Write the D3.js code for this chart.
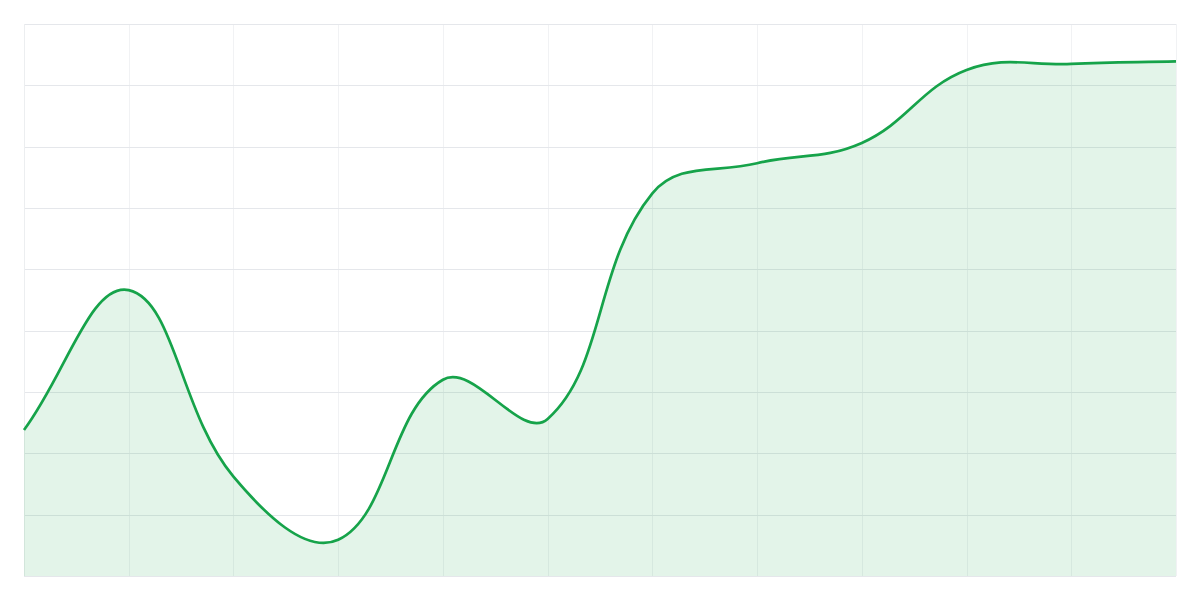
<!DOCTYPE html>
<html>
<head>
<meta charset="utf-8">
<script src="https://cdn.jsdelivr.net/npm/d3@7"></script>
<style>
  html, body { margin: 0; padding: 0; background: #fff; }
  .grid line { shape-rendering: crispEdges; }
  .grid path { display: none; }
  .grid text { display: none; }
</style>
</head>
<body>
<div id="chart"></div>
<script>
// data
var points = [0, 1, 2, 3, 4, 5, 6, 7, 8, 9, 10, 11],
	values = [23.8, 46.6, 16.2, 5.9, 32.0, 25.6, 62.4, 67.3, 70.6, 82.5, 83.5, 83.9],
	yTicks = [0, 10, 20, 30, 40, 50, 60, 70, 80, 90];

var width = 1200,
	height = 600,
	margin = {top: 24, right: 24, bottom: 24, left: 24},
	tension = 0.4;

var data = points.map(function(p, i){
	return {x: p, value: values[i]};
});

// spline where control arms are scaled by the distance to each neighbour
function Spline(context){ this._context = context; }
Spline.prototype = {
	areaStart: function(){ this._line = 0; },
	areaEnd: function(){ this._line = NaN; },
	lineStart: function(){ this._pts = []; },
	point: function(x, y){ this._pts.push([+x, +y]); },
	lineEnd: function(){
		var p = this._pts, n = p.length, c = this._context, cp = [];
		if(n){
			if(this._line) c.lineTo(p[0][0], p[0][1]);
			else c.moveTo(p[0][0], p[0][1]);
		}
		for(var i = 0; i < n; i++){
			var prev = p[i-1] || p[i], cur = p[i], next = p[i+1] || p[i];
			var d01 = Math.hypot(cur[0]-prev[0], cur[1]-prev[1]),
				d12 = Math.hypot(next[0]-cur[0], next[1]-cur[1]),
				s01 = d01 / (d01 + d12) || 0,
				s12 = d12 / (d01 + d12) || 0,
				fa = tension * s01, fb = tension * s12;
			cp.push({
				px: cur[0] - fa * (next[0]-prev[0]), py: cur[1] - fa * (next[1]-prev[1]),
				nx: cur[0] + fb * (next[0]-prev[0]), ny: cur[1] + fb * (next[1]-prev[1])
			});
		}
		for(var j = 1; j < n; j++){
			c.bezierCurveTo(cp[j-1].nx, cp[j-1].ny, cp[j].px, cp[j].py, p[j][0], p[j][1]);
		}
		if(this._line || (this._line !== 0 && n === 1)) c.closePath();
		this._line = 1 - this._line;
	}
};
function curveSpline(context){ return new Spline(context); }

var svg = d3.select('#chart')
	.append('svg')
	.attr('width', width)
	.attr('height', height);

var x = d3.scaleLinear()
	.domain([0, points.length - 1])
	.range([margin.left, width - margin.right]);

var y = d3.scaleLinear()
	.domain([0, 90])
	.range([height - margin.bottom, margin.top]);

// vertical grid
svg.append('g')
	.attr('class', 'grid')
	.attr('transform', 'translate(0,' + (height - margin.bottom) + ')')
	.call(d3.axisBottom(x).tickValues(points).tickSize(-(height - margin.top - margin.bottom)).tickFormat(''))
	.selectAll('line')
	.attr('stroke', '#f1f2f4');

// horizontal grid
svg.append('g')
	.attr('class', 'grid')
	.attr('transform', 'translate(' + margin.left + ',0)')
	.call(d3.axisLeft(y).tickValues(yTicks).tickSize(-(width - margin.left - margin.right)).tickFormat(''))
	.selectAll('line')
	.attr('stroke', '#e5e7eb');

svg.append('line')
	.attr('x1', x(0)).attr('x2', x(0))
	.attr('y1', y(90)).attr('y2', y(0))
	.attr('stroke', '#eceef0')
	.attr('shape-rendering', 'crispEdges');

var area = d3.area()
	.x(function(d){ return x(d.x); })
	.y0(y(0))
	.y1(function(d){ return y(d.value); })
	.curve(curveSpline);

var line = d3.line()
	.x(function(d){ return x(d.x); })
	.y(function(d){ return y(d.value); })
	.curve(curveSpline);

svg.append('path')
	.datum(data)
	.attr('d', area)
	.attr('fill', 'rgba(22,163,74,0.12)');

svg.append('path')
	.datum(data)
	.attr('d', line)
	.attr('fill', 'none')
	.attr('stroke', '#16a34a')
	.attr('stroke-width', 2.7)
	.attr('stroke-linejoin', 'round');
</script>
</body>
</html>
